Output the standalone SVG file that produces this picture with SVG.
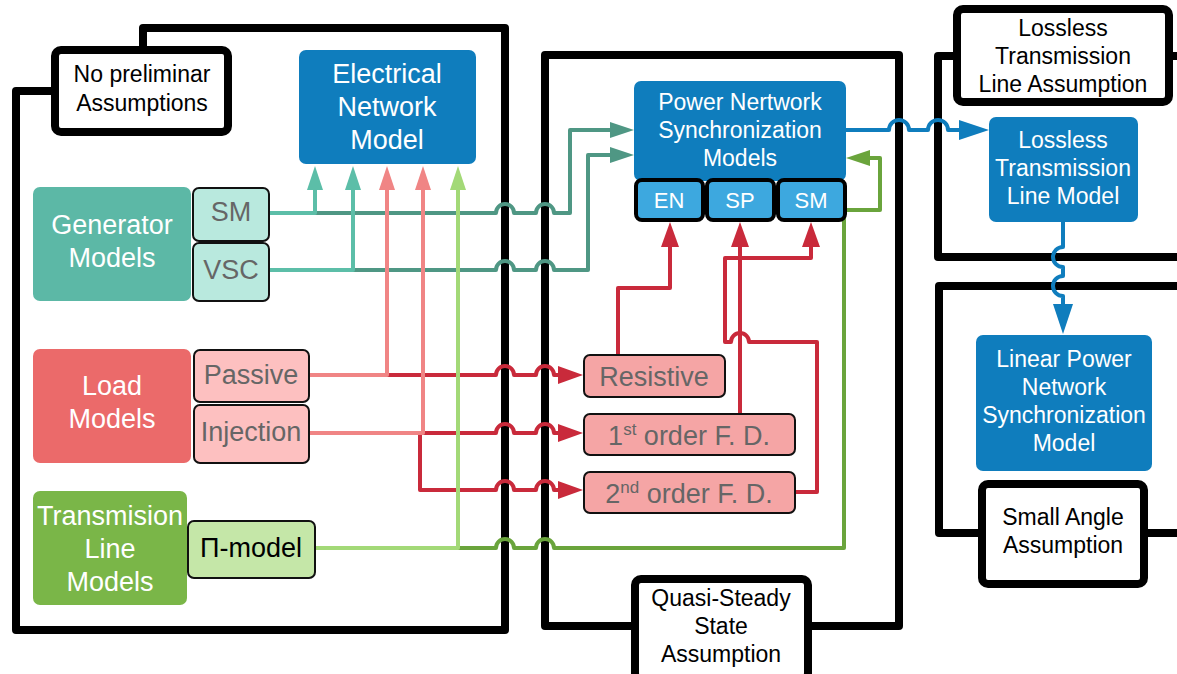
<svg xmlns="http://www.w3.org/2000/svg" width="1177" height="674" viewBox="0 0 1177 674">
<style>
text{font-family:"Liberation Sans",Arial,sans-serif;text-anchor:middle}
.frame{fill:none;stroke:#000;stroke-width:8;stroke-linejoin:round}
.lbl{fill:#fff;stroke:#000;stroke-width:8}
.lt{font-size:23px;fill:#000}
.blue{fill:#0f7dbd}
.wt{fill:#fff}
.sub{stroke:#111;stroke-width:2}
.gt{fill:#666;font-size:27px}
.c{fill:none;stroke-linejoin:round;stroke-width:4}
</style>
<defs>
<marker id="aTl" markerUnits="userSpaceOnUse" markerWidth="24" markerHeight="18" refX="0" refY="8" orient="auto"><path d="M0,0L24,8L0,16z" fill="#5cbea8"/></marker>
<marker id="aTd" markerUnits="userSpaceOnUse" markerWidth="24" markerHeight="18" refX="0" refY="8" orient="auto"><path d="M0,0L24,8L0,16z" fill="#4f9784"/></marker>
<marker id="aP" markerUnits="userSpaceOnUse" markerWidth="24" markerHeight="18" refX="0" refY="8" orient="auto"><path d="M0,0L24,8L0,16z" fill="#f08585"/></marker>
<marker id="aR" markerUnits="userSpaceOnUse" markerWidth="25" markerHeight="18" refX="0" refY="9" orient="auto"><path d="M0,0L25,9L0,18z" fill="#c92a3b"/></marker>
<marker id="aGl" markerUnits="userSpaceOnUse" markerWidth="24" markerHeight="18" refX="0" refY="8" orient="auto"><path d="M0,0L24,8L0,16z" fill="#a3d977"/></marker>
<marker id="aGd" markerUnits="userSpaceOnUse" markerWidth="24" markerHeight="18" refX="0" refY="8" orient="auto"><path d="M0,0L24,8L0,16z" fill="#6aa43c"/></marker>
<marker id="aB" markerUnits="userSpaceOnUse" markerWidth="30" markerHeight="22" refX="0" refY="10" orient="auto"><path d="M0,0L30,10L0,20z" fill="#0f7dbd"/></marker>
</defs>

<g id="frames">
<path class="frame" d="M55,91 H16 V630 H505 V28 H143 V50"/>
<path class="frame" d="M635,626 H545 V55 H899 V626 H808"/>
<path class="frame" d="M957,56 H938 V257 H1177 M1169,56 H1177"/>
<path class="frame" d="M1177,286 H939 V533 H978 M1148,533 H1177"/>
</g>

<g id="frame-labels">
<g id="no-preliminar">
<rect class="lbl" x="55" y="50" width="173" height="82" rx="6"/>
<text class="lt" x="142" y="82">No preliminar</text>
<text class="lt" x="142" y="111">Assumptions</text>
</g>
<g id="quasi-steady">
<rect class="lbl" x="635" y="579" width="173" height="100" rx="6"/>
<text class="lt" x="721" y="606">Quasi-Steady</text>
<text class="lt" x="721" y="634">State</text>
<text class="lt" x="721" y="662">Assumption</text>
</g>
<g id="lossless-assumption">
<rect class="lbl" x="957" y="9" width="212" height="93" rx="6"/>
<text class="lt" x="1063" y="36">Lossless</text>
<text class="lt" x="1063" y="64">Transmission</text>
<text class="lt" x="1063" y="92">Line Assumption</text>
</g>
<g id="small-angle">
<rect class="lbl" x="982" y="484" width="162" height="100" rx="6"/>
<text class="lt" x="1063" y="525">Small Angle</text>
<text class="lt" x="1063" y="553">Assumption</text>
</g>
</g>

<g id="connectors">
<path class="c" stroke="#4f9784" marker-end="url(#aTd)" d="M270,213 H496 A9,9 0 0 1 514,213 H536 A9,9 0 0 1 554,213 H570 V130 H610"/>
<path class="c" stroke="#4f9784" marker-end="url(#aTd)" d="M270,270 H496 A9,9 0 0 1 514,270 H536 A9,9 0 0 1 554,270 H588 V155 H610"/>
<path class="c" stroke="#5cbea8" marker-end="url(#aTl)" d="M270,213 H315 V190"/>
<path class="c" stroke="#5cbea8" marker-end="url(#aTl)" d="M270,270 H353 V190"/>
<path class="c" stroke="#c92a3b" marker-end="url(#aR)" d="M310,375 H496 A9,9 0 0 1 514,375 H536 A9,9 0 0 1 554,375 H558"/>
<path class="c" stroke="#c92a3b" marker-end="url(#aR)" d="M310,433 H496 A9,9 0 0 1 514,433 H536 A9,9 0 0 1 554,433 H558"/>
<path class="c" stroke="#c92a3b" marker-end="url(#aR)" d="M310,433 H420 V490 H496 A9,9 0 0 1 514,490 H536 A9,9 0 0 1 554,490 H558"/>
<path class="c" stroke="#6aa43c" marker-end="url(#aGd)" d="M316,548 H496 A9,9 0 0 1 514,548 H536 A9,9 0 0 1 554,548 H844 V210 H880 V158 H870"/>
<path class="c" stroke="#f08585" marker-end="url(#aP)" d="M310,375 H387 V190"/>
<path class="c" stroke="#f08585" marker-end="url(#aP)" d="M310,433 H423 V190"/>
<path class="c" stroke="#a3d977" marker-end="url(#aGl)" d="M316,548 H458 V190"/>
<path class="c" stroke="#c92a3b" marker-end="url(#aR)" d="M618,354 V288 H670 V247"/>
<path class="c" stroke="#c92a3b" marker-end="url(#aR)" d="M740,413 V247"/>
<path class="c" stroke="#c92a3b" marker-end="url(#aR)" d="M740,413 V258 H811 V247"/>
<path class="c" stroke="#c92a3b" d="M796,492 H817 V342 H749 A9,9 0 0 0 731,342 H725 V258 H740"/>
<path class="c" stroke="#0f7dbd" stroke-width="6" marker-end="url(#aB)" d="M846,130 H889 A10,10 0 0 1 909,130 H928 A10,10 0 0 1 948,130 H959"/>
<path class="c" stroke="#0f7dbd" stroke-width="6" marker-end="url(#aB)" d="M1063,222 V247 A10,10 0 0 0 1063,267 V276 A10,10 0 0 0 1063,296 V304"/>
</g>

<g id="electrical-network-model">
<rect class="blue" x="299" y="50" width="177" height="114" rx="7"/>
<text class="wt" font-size="27" x="387" y="83">Electrical</text>
<text class="wt" font-size="27" x="387" y="116">Network</text>
<text class="wt" font-size="27" x="387" y="149">Model</text>
</g>

<g id="generator-models">
<rect fill="#5cb8a6" x="33" y="187" width="158" height="114" rx="7"/>
<text class="wt" font-size="27" x="112" y="234">Generator</text>
<text class="wt" font-size="27" x="112" y="267">Models</text>
</g>
<g id="gen-sm">
<rect class="sub" fill="#b9e9de" x="193" y="188" width="76" height="53" rx="6"/>
<text class="gt" x="231" y="221">SM</text>
</g>
<g id="gen-vsc">
<rect class="sub" fill="#b9e9de" x="193" y="243" width="76" height="58" rx="6"/>
<text class="gt" x="231" y="279">VSC</text>
</g>

<g id="load-models">
<rect fill="#eb6a6a" x="33" y="349" width="158" height="114" rx="7"/>
<text class="wt" font-size="27" x="112" y="395">Load</text>
<text class="wt" font-size="27" x="112" y="428">Models</text>
</g>
<g id="load-passive">
<rect class="sub" fill="#fdc0c0" x="194" y="350" width="115" height="52" rx="6"/>
<text class="gt" x="251" y="384">Passive</text>
</g>
<g id="load-injection">
<rect class="sub" fill="#fdc0c0" x="194" y="405" width="115" height="58" rx="6"/>
<text class="gt" x="251" y="441">Injection</text>
</g>

<g id="transmission-line-models">
<rect fill="#7ab648" x="33" y="491" width="154" height="114" rx="7"/>
<text class="wt" font-size="27" x="110" y="525">Transmision</text>
<text class="wt" font-size="27" x="110" y="558">Line</text>
<text class="wt" font-size="27" x="110" y="591">Models</text>
</g>
<g id="pi-model">
<rect class="sub" fill="#c5e7a8" x="188" y="521" width="127" height="57" rx="6"/>
<text font-size="27" fill="#000" x="251" y="557">Π-model</text>
</g>

<g id="pns-models">
<rect class="blue" x="634" y="81" width="212" height="100" rx="7"/>
<text class="wt" font-size="23" x="740" y="110">Power Nertwork</text>
<text class="wt" font-size="23" x="740" y="138">Synchronization</text>
<text class="wt" font-size="23" x="740" y="166">Models</text>
</g>
<g id="pns-en">
<rect fill="#3da8df" stroke="#000" stroke-width="4" x="636" y="180" width="67" height="40" rx="6"/>
<text class="wt" font-size="22" x="669" y="208">EN</text>
</g>
<g id="pns-sp">
<rect fill="#3da8df" stroke="#000" stroke-width="4" x="707" y="180" width="67" height="40" rx="6"/>
<text class="wt" font-size="22" x="740" y="208">SP</text>
</g>
<g id="pns-sm">
<rect fill="#3da8df" stroke="#000" stroke-width="4" x="778" y="180" width="67" height="40" rx="6"/>
<text class="wt" font-size="22" x="811" y="208">SM</text>
</g>

<g id="resistive">
<rect class="sub" fill="#f5a5a5" x="584" y="355" width="141" height="42" rx="6"/>
<text class="gt" x="654" y="386">Resistive</text>
</g>
<g id="first-order">
<rect class="sub" fill="#f5a5a5" x="584" y="414" width="211" height="41" rx="6"/>
<text class="gt" x="689" y="445">1<tspan font-size="17" dy="-10">st</tspan><tspan dy="10"> order F. D.</tspan></text>
</g>
<g id="second-order">
<rect class="sub" fill="#f5a5a5" x="584" y="472" width="211" height="41" rx="6"/>
<text class="gt" x="689" y="503">2<tspan font-size="17" dy="-10">nd</tspan><tspan dy="10"> order F. D.</tspan></text>
</g>

<g id="lossless-model">
<rect class="blue" x="989" y="117" width="149" height="105" rx="7"/>
<text class="wt" font-size="23" x="1063" y="148">Lossless</text>
<text class="wt" font-size="23" x="1063" y="176">Transmission</text>
<text class="wt" font-size="23" x="1063" y="204">Line Model</text>
</g>

<g id="linear-pns-model">
<rect class="blue" x="976" y="335" width="176" height="136" rx="7"/>
<text class="wt" font-size="23" x="1064" y="367">Linear Power</text>
<text class="wt" font-size="23" x="1064" y="395">Network</text>
<text class="wt" font-size="23" x="1064" y="423">Synchronization</text>
<text class="wt" font-size="23" x="1064" y="451">Model</text>
</g>
</svg>
